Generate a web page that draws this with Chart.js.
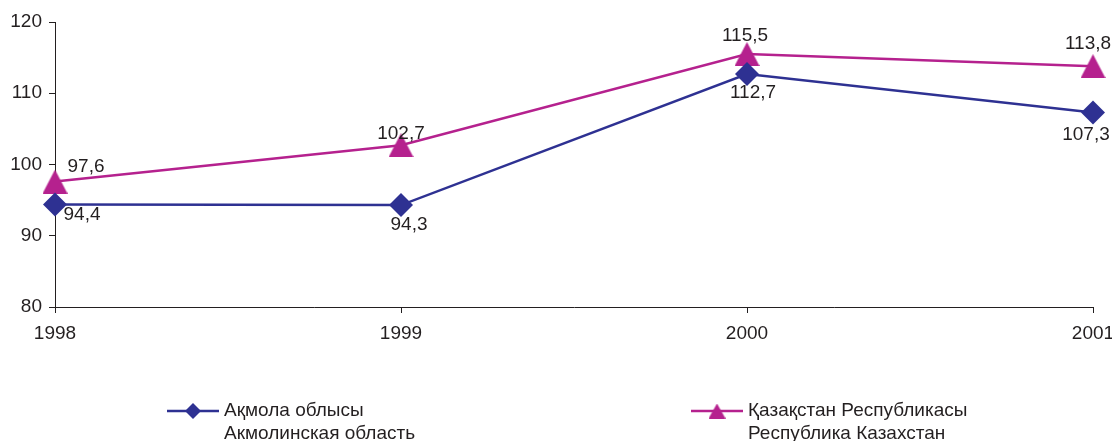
<!DOCTYPE html>
<html>
<head>
<meta charset="utf-8">
<script src="https://cdn.jsdelivr.net/npm/chart.js@4/dist/chart.umd.min.js"></script>
<style>
  html, body { margin: 0; padding: 0; background: #fff; }
  #wrap { width: 1112px; height: 441px; position: relative; }
</style>
</head>
<body>
<div id="wrap"><canvas id="grafico"></canvas></div>
<script>
// datos
const anios = ['1998', '1999', '2000', '2001'];
const akmola = [94.4, 94.3, 112.7, 107.3];
const kazajstan = [97.6, 102.7, 115.5, 113.8];
const nombresAkmola = ['Ақмола облысы', 'Акмолинская область'];
const nombresKaz = ['Қазақстан Республикасы', 'Республика Казахстан'];
const ticksY = [80, 90, 100, 110, 120];

const azul = '#2e3192';
const magenta = '#b5218e';
const texto = '#231f20';
const fuente = '"Liberation Sans", Arial, sans-serif';

// desplazamiento de las etiquetas respecto al punto (px)
const offAkmola = [[27, 10], [8, 20], [6, 19], [-7, 22]];
const offKaz = [[31, -15], [0, -11], [-2, -18], [-5, -22]];

function numero(v) {
  return v.toFixed(1).replace('.', ',');
}

// triangulo centrado en el punto (como en el original)
function triangulo(w, h, color) {
  const c = document.createElement('canvas');
  c.width = w;
  c.height = h;
  const g = c.getContext('2d');
  g.fillStyle = color;
  g.beginPath();
  g.moveTo(w / 2, 0);
  g.lineTo(w, h);
  g.lineTo(0, h);
  g.closePath();
  g.fill();
  return c;
}
const trianguloGrande = triangulo(25, 24, magenta);
const trianguloChico = triangulo(17, 15, magenta);

const etiquetasPlugin = {
  id: 'etiquetas',
  afterDatasetsDraw(chart) {
    const ctx = chart.ctx;
    ctx.save();
    ctx.font = '19px ' + fuente;
    ctx.fillStyle = texto;
    ctx.textAlign = 'center';
    ctx.textBaseline = 'middle';
    chart.data.datasets.forEach((ds, i) => {
      const meta = chart.getDatasetMeta(i);
      const offs = i === 0 ? offAkmola : offKaz;
      meta.data.forEach((p, j) => {
        ctx.fillText(numero(ds.data[j]), p.x + offs[j][0], p.y + offs[j][1]);
      });
    });
    ctx.restore();
  }
};

// leyenda dibujada a mano (dos lineas por serie)
const leyendaPlugin = {
  id: 'leyenda',
  afterDraw(chart) {
    const ctx = chart.ctx;
    const items = [
      { x: 167, color: azul, estilo: 'rectRot', r: 8, nombres: nombresAkmola },
      { x: 691, color: magenta, estilo: trianguloChico, r: 8, nombres: nombresKaz }
    ];
    ctx.save();
    items.forEach(it => {
      const y = 411;
      ctx.strokeStyle = it.color;
      ctx.lineWidth = 2.5;
      ctx.beginPath();
      ctx.moveTo(it.x, y);
      ctx.lineTo(it.x + 52, y);
      ctx.stroke();
      ctx.fillStyle = it.color;
      Chart.helpers.drawPoint(ctx, { pointStyle: it.estilo, radius: it.r, borderWidth: 0 }, it.x + 26, y);
      ctx.fillStyle = texto;
      ctx.font = '19px ' + fuente;
      ctx.textAlign = 'left';
      ctx.textBaseline = 'middle';
      ctx.fillText(it.nombres[0], it.x + 57, y);
      ctx.fillText(it.nombres[1], it.x + 57, y + 23);
    });
    ctx.restore();
  }
};

new Chart(document.getElementById('grafico'), {
  type: 'line',
  data: {
    labels: anios,
    datasets: [{
      label: nombresAkmola.join(' '),
      data: akmola,
      borderColor: azul,
      backgroundColor: azul,
      borderWidth: 2.5,
      pointStyle: 'rectRot',
      pointRadius: 12,
      pointBorderWidth: 0,
      tension: 0
    }, {
      label: nombresKaz.join(' '),
      data: kazajstan,
      borderColor: magenta,
      backgroundColor: magenta,
      borderWidth: 2.5,
      pointStyle: trianguloGrande,
      pointRadius: 13,
      pointBorderWidth: 0,
      tension: 0
    }]
  },
  options: {
    responsive: true,
    maintainAspectRatio: false,
    animation: false,
    layout: { padding: { top: 22, right: 19, bottom: 94, left: 0 } },
    plugins: {
      legend: { display: false },
      tooltip: { enabled: false }
    },
    scales: {
      x: {
        offset: false,
        grid: { drawOnChartArea: false, drawTicks: true, tickLength: 6, color: texto, lineWidth: 1 },
        border: { color: texto, width: 1 },
        ticks: { color: texto, font: { family: fuente, size: 19 }, padding: 9, maxRotation: 0 },
        afterFit(s) { s.height = 40; s.paddingRight = 0; s.paddingLeft = 0; }
      },
      y: {
        min: 80,
        max: 120,
        afterBuildTicks(s) { s.ticks = ticksY.map(v => ({ value: v })); },
        grid: { drawOnChartArea: false, drawTicks: true, tickLength: 6, color: texto, lineWidth: 1 },
        border: { color: texto, width: 1 },
        ticks: { color: texto, font: { family: fuente, size: 19 }, padding: 7 },
        afterFit(s) { s.width = 55; s.paddingTop = 0; s.paddingBottom = 0; }
      }
    }
  },
  plugins: [etiquetasPlugin, leyendaPlugin]
});
</script>
</body>
</html>
